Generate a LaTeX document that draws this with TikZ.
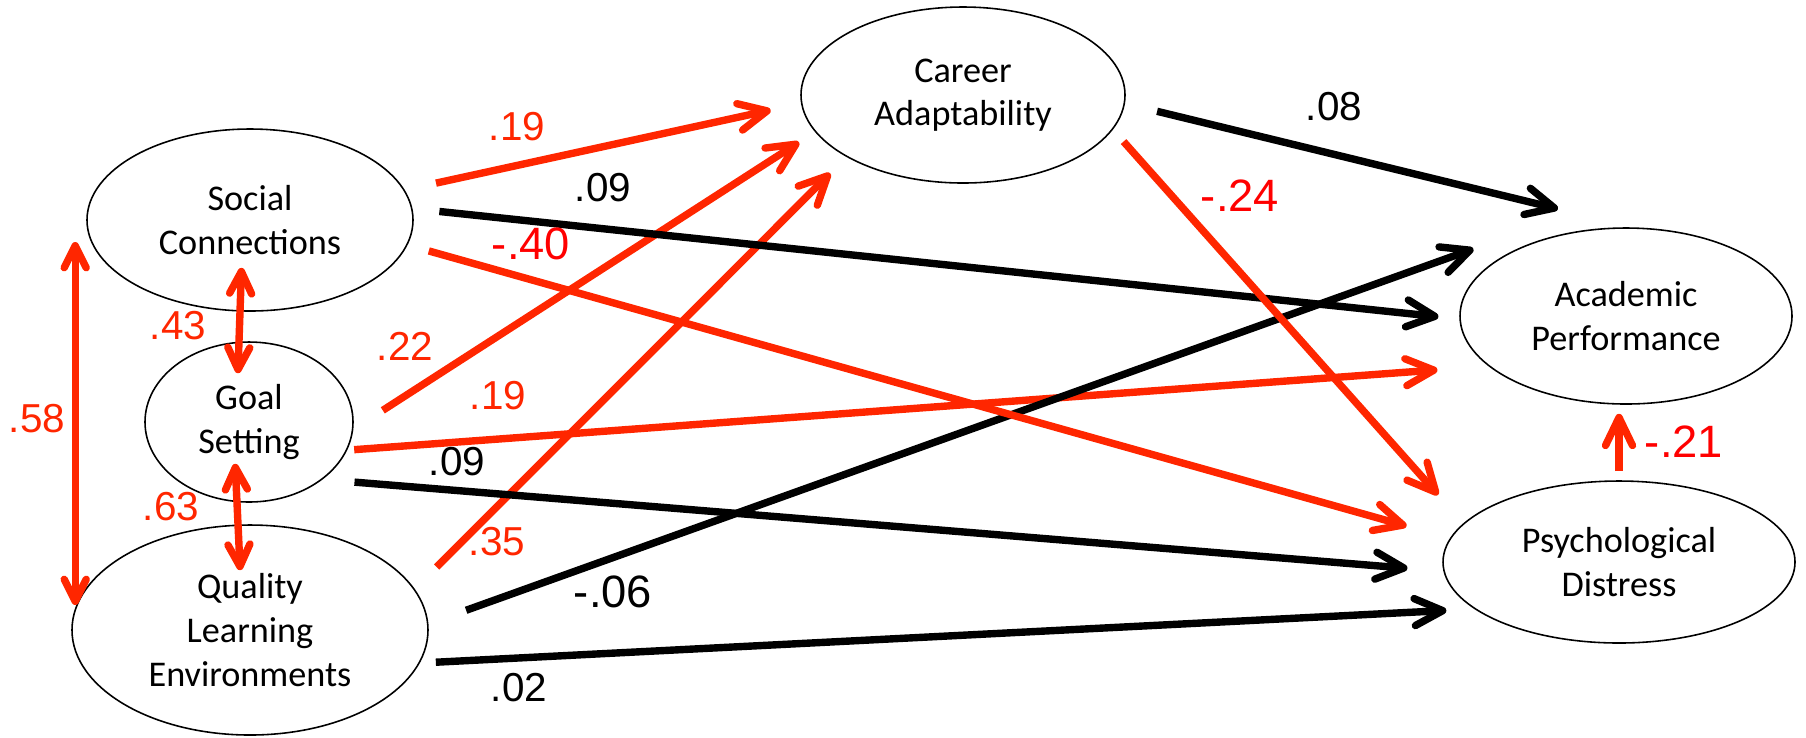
\documentclass[tikz,border=0pt]{standalone}
\usepackage{fontspec}
\setmainfont{Liberation Sans}
\newfontfamily\calibri{Carlito}
\usepackage{tikz}
\usetikzlibrary{calc, arrows.meta, shapes.geometric}

\definecolor{rosso}{RGB}{255,38,0}
\definecolor{rossovivo}{RGB}{255,0,0}

\begin{document}
\begin{tikzpicture}[x=0.1mm, y=-0.1mm, >={Straight Barb[length=2.8mm,width=2.7mm,round]},
  latente/.style={ellipse, draw, line width=0.45pt, align=center, inner sep=0pt,
    font=\calibri\fontsize{10.3}{12.4}\selectfont},
  freccia/.style={line width=0.74mm, ->},
  cov/.style={rosso, line width=0.74mm,
    {Straight Barb[length=2.2mm,width=2.2mm,round]}-{Straight Barb[length=2.2mm,width=2.2mm,round]}},
  coef/.style={inner sep=0pt, font=\fontsize{11.5}{13}\selectfont},
  coefneg/.style={inner sep=0pt, font=\fontsize{12.9}{14}\selectfont}]

\useasboundingbox (0,0) rectangle (1806,737);

% variabili latenti
\node[latente, minimum width=32.6mm, minimum height=18.2mm] (soc) at (250,220) {Social\\Connections};
\node[latente, minimum width=20.8mm, minimum height=16mm] (goal) at (249,422) {Goal\\Setting};
\node[latente, minimum width=35.6mm, minimum height=21mm] (qle) at (250,630) {Quality\\Learning\\Environments};
\node[latente, minimum width=32.4mm, minimum height=17.6mm] (car) at (963,95) {Career\\Adaptability};
\node[latente, minimum width=33.2mm, minimum height=17.6mm] (acad) at (1626,316) {Academic\\Performance};
\node[latente, minimum width=35.2mm, minimum height=16.2mm] (psy) at (1619,562) {Psychological\\Distress};

% correlazioni
\draw[cov, shorten <=-4.4mm, shorten >=-3.2mm] ([xshift=-1mm]soc.south) -- ([xshift=-1mm]goal.north);
\draw[cov, shorten <=-3.9mm, shorten >=-4.6mm] ([xshift=-1.2mm]goal.south) -- ([xshift=-1.2mm]qle.north);
\draw[cov, shorten <=2.2mm, shorten >=2.5mm] ($(qle.west |- soc.west)+(4,0)$) -- ($(qle.west)+(4,0)$);

% percorsi verso Career Adaptability
\draw[freccia, rosso, shorten <=3.2mm, shorten >=3.1mm] (soc.11) -- (car.183);
\draw[freccia, rosso, shorten <=3.5mm, shorten >=1.9mm] (goal.356) -- (car.194);
\draw[freccia, rosso, shorten <=3.1mm, shorten >=2.3mm] (qle.14) -- (car.208);

% percorsi verso Academic Performance
\draw[freccia, shorten <=2.7mm, shorten >=2.1mm] (soc.4) -- (acad.181);
\draw[freccia, rosso, shorten <=0.7mm, shorten >=5.1mm] (goal.344) -- (acad.200);
\draw[freccia, shorten <=4mm, shorten >=4.2mm] (qle.2) -- ([yshift=1.6mm]acad.150);
\draw[freccia, shorten <=3.3mm, shorten >=7.8mm] (car.357) -- (acad.85);

% percorsi verso Psychological Distress
\draw[freccia, rosso, shorten <=2.2mm, shorten >=4.5mm] (soc.351) -- (psy.172);
\draw[freccia, shorten <=3.2mm, shorten >=3.6mm] (goal.322) -- (psy.183);
\draw[freccia, shorten <=1.6mm, shorten >=2.8mm] (qle.349) -- (psy.198);
\draw[freccia, rosso, shorten <=1.6mm, shorten >=3.8mm] (car.347) -- (psy.166);
\draw[freccia, rosso, shorten <=0.9mm, shorten >=0.9mm] (psy.north) -- (psy.north |- acad.south);

% coefficienti
\node[coef, rosso] (k-soc-goal) at (178,326) {.43};
\node[coef, rosso] (k-goal-qle) at (171,507) {.63};
\node[coef, rosso] (k-soc-qle) at (37,419) {.58};
\node[coef, rosso] (k-soc-car) at (517,127) {.19};
\node[coef] (k-soc-acad) at (603,188) {.09};
\node[coefneg, rossovivo] (k-soc-psy) at (531,244) {-.40};
\node[coef, rosso] (k-goal-car) at (405,346) {.22};
\node[coef, rosso] (k-goal-acad) at (498,396) {.19};
\node[coef] (k-goal-psy) at (457,462) {.09};
\node[coef, rosso] (k-qle-car) at (497,542) {.35};
\node[coefneg] (k-qle-acad) at (613,592) {-.06};
\node[coef] (k-qle-psy) at (519,688) {.02};
\node[coef] (k-car-acad) at (1334,107) {.08};
\node[coefneg, rossovivo] (k-car-psy) at (1240,196) {-.24};
\node[coefneg, rossovivo] (k-psy-acad) at (1684,442) {-.21};

\end{tikzpicture}
\end{document}
